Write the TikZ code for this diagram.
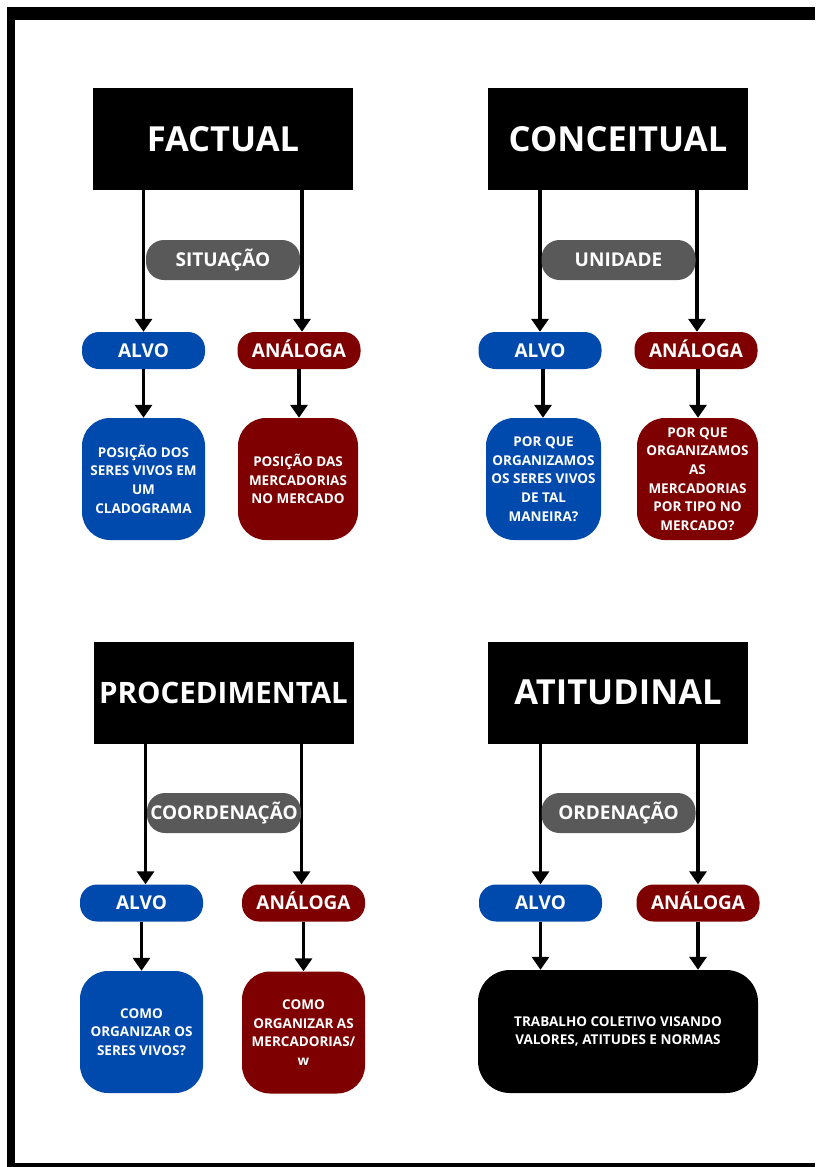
\documentclass[tikz,border=0pt]{standalone}
\usepackage{fontspec}
\setmainfont{Open Sans}
\usepackage{tikz}
\usetikzlibrary{arrows.meta, positioning}

\definecolor{azul}{HTML}{004AAD}
\definecolor{vinho}{HTML}{7F0000}
\definecolor{cinza}{HTML}{595959}

\begin{document}
\begin{tikzpicture}[
    x=1pt, y=-1pt,
    titulo/.style={rectangle, fill=black, text=white, minimum width=260pt, minimum height=102pt,
                   inner sep=0pt, font=\fontsize{34.5}{40}\selectfont\bfseries},
    eixo/.style={rectangle, rounded corners=18pt, fill=cinza, text=white, minimum width=154pt,
                 minimum height=40pt, inner sep=0pt, text height=13.6pt, text depth=0pt,
                 font=\fontsize{19}{22}\selectfont\bfseries},
    alvo/.style={rectangle, rounded corners=17pt, fill=azul, text=white, minimum width=123pt,
                 minimum height=37pt, inner sep=0pt, text height=13.6pt, text depth=0pt,
                 font=\fontsize{19}{22}\selectfont\bfseries},
    anal/.style={alvo, fill=vinho},
    caixa/.style={rectangle, rounded corners=28pt, text=white, minimum height=122pt, inner sep=0pt,
                  align=center, font=\fontsize{13.5}{18.7}\selectfont\bfseries},
    caixaalvo/.style={caixa, fill=azul},
    caixaanal/.style={caixa, fill=vinho},
    seta/.style={-{Triangle[width=17pt, length=13pt]}, line width=3.5pt}
]
    \useasboundingbox (0,0) rectangle (815,1167);
    % moldura
    \fill[white] (0,0) rectangle (815,1167);
    \fill[black] (7,7) rectangle (815,20);
    \fill[black] (7,7) rectangle (15,1167);
    \fill[black] (7,1163) rectangle (815,1167);

    % FACTUAL
    \node[titulo] (fac)  at (223,139)  {FACTUAL};
    \node[alvo]   (alvoA) at (143.5,350.5) {ALVO};
    \node[anal]   (anaA)  at (299,350.5)  {ANÁLOGA};
    \node[caixaalvo, minimum width=123pt] (cxA1) at (143.5,479) {POSIÇÃO DOS\\SERES VIVOS EM\\UM\\CLADOGRAMA};
    \node[caixaanal, minimum width=120pt] (cxA2) at (298,479) {POSIÇÃO DAS\\MERCADORIAS\\NO MERCADO};

    \draw[seta] (alvoA |- fac.south) -- (alvoA.north);
    \draw[seta] ([xshift=3pt]anaA.north |- fac.south) -- ([xshift=3pt]anaA.north);
    \draw[seta] (alvoA.south) -- (alvoA.south |- cxA1.north);
    \draw[seta] (anaA.south) -- (anaA.south |- cxA2.north);
    \node[eixo] (sit) at (223,260) {SITUAÇÃO};

    % CONCEITUAL
    \node[titulo] (con)  at (618,139)  {CONCEITUAL};
    \node[alvo]   (alvoB) at (540,350.5) {ALVO};
    \node[anal]   (anaB)  at (696,350.5) {ANÁLOGA};
    \node[caixaalvo, minimum width=115pt] (cxB1) at (543.5,479) {POR QUE\\ORGANIZAMOS\\OS SERES VIVOS\\DE TAL\\MANEIRA?};
    \node[caixaanal, minimum width=121pt] (cxB2) at (697.5,479) {POR QUE\\ORGANIZAMOS\\AS\\MERCADORIAS\\POR TIPO NO\\MERCADO?};

    \draw[seta] (alvoB |- con.south) -- (alvoB.north);
    \draw[seta] ([xshift=1pt]anaB.north |- con.south) -- ([xshift=1pt]anaB.north);
    \draw[seta] ([xshift=3pt]alvoB.south) -- ([xshift=3pt]alvoB.south |- cxB1.north);
    \draw[seta] ([xshift=2pt]anaB.south) -- ([xshift=2pt]anaB.south |- cxB2.north);
    \node[eixo] (uni) at (618.5,260) {UNIDADE};

    % PROCEDIMENTAL
    \node[titulo, font=\fontsize{29.5}{34}\selectfont\bfseries] (pro)  at (223.5,692.5) {PROCEDIMENTAL};
    \node[alvo]   (alvoC) at (141.5,903) {ALVO};
    \node[anal]   (anaC)  at (303.5,903) {ANÁLOGA};
    \node[caixaalvo, minimum width=123pt] (cxC1) at (141.5,1032) {COMO\\ORGANIZAR OS\\SERES VIVOS?};
    \node[caixaanal, minimum width=123pt] (cxC2) at (303.5,1032.5) {COMO\\ORGANIZAR AS\\MERCADORIAS/\\w};

    \draw[seta] ([xshift=4pt]alvoC.north |- pro.south) -- ([xshift=4pt]alvoC.north);
    \draw[seta] ([xshift=-2pt]anaC.north |- pro.south) -- ([xshift=-2pt]anaC.north);
    \draw[seta] (alvoC.south) -- (alvoC.south |- cxC1.north);
    \draw[seta] (anaC.south) -- (anaC.south |- cxC2.north);
    \node[eixo] (coo) at (224,813) {COORDENAÇÃO};

    % ATITUDINAL
    \node[titulo] (ati)  at (618,692.5) {ATITUDINAL};
    \node[alvo]   (alvoD) at (540.5,903) {ALVO};
    \node[anal]   (anaD)  at (698,903) {ANÁLOGA};
    \node[caixa, fill=black, minimum width=280pt, minimum height=123pt, rounded corners=32pt]
        (cxD) at (618,1031.5) {TRABALHO COLETIVO VISANDO\\VALORES, ATITUDES E NORMAS};

    \draw[seta] (alvoD |- ati.south) -- (alvoD.north);
    \draw[seta] (anaD |- ati.south) -- (anaD.north);
    \draw[seta] (alvoD.south) -- (alvoD.south |- cxD.north);
    \draw[seta] (anaD.south) -- (anaD.south |- cxD.north);
    \node[eixo] (ord) at (618.5,813) {ORDENAÇÃO};

\end{tikzpicture}
\end{document}
